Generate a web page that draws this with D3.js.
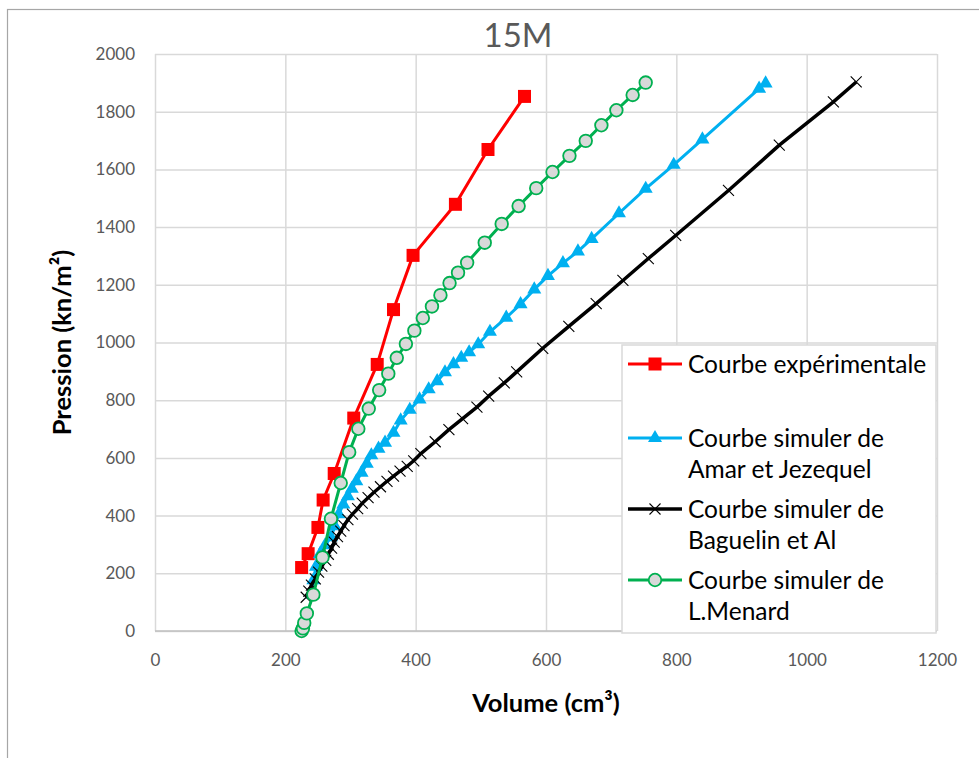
<!DOCTYPE html>
<html>
<head>
<meta charset="utf-8">
<script src="https://cdn.jsdelivr.net/npm/d3@7"></script>
<style>
  html, body { margin: 0; padding: 0; background: #ffffff; }
  svg { display: block; }
  text { font-family: Lato, "Open Sans", sans-serif; }
</style>
</head>
<body>
<svg id="chart" width="979" height="758"></svg>
<script>
// Pressiometer curves at 15 m: pressure (kn/m²) against volume (cm³)
const chartTitle = "15M";
const xTicks = [0, 200, 400, 600, 800, 1000, 1200];
const yTicks = [0, 200, 400, 600, 800, 1000, 1200, 1400, 1600, 1800, 2000];

// Courbe expérimentale
const volExp  = [225, 235, 250, 258, 275, 305, 341, 366, 396, 461, 511, 567];
const presExp = [220, 268, 359, 454, 546, 738, 924, 1114, 1302, 1479, 1669, 1853];

// Courbe simuler de Amar et Jezequel
const volAmar  = [241, 243, 247, 253, 261, 270, 276, 282, 289, 296, 302, 309, 317, 325, 332, 343, 353, 366, 377, 391,
                  406, 420, 433, 445, 458, 470, 482, 496, 514, 539, 561, 582, 603, 626, 649, 670, 712, 753, 796, 840, 927, 937];
const presAmar = [127, 176, 223, 266, 297, 325, 363, 405, 439, 467, 493, 519, 549, 580, 609, 632, 653, 687, 730, 767,
                  803, 838, 866, 897, 925, 947, 966, 994, 1037, 1086, 1133, 1184, 1231, 1275, 1316, 1359, 1448, 1533, 1616, 1704, 1880, 1898];

// Courbe simuler de Baguelin et Al
const volBag  = [232, 236, 240, 246, 251, 256, 262, 266, 271, 275, 280, 285, 290, 296, 303, 311, 318, 327, 336, 346,
                 356, 366, 376, 387, 397, 408, 430, 451, 472, 494, 512, 536, 555, 595, 635, 677, 718, 757, 799, 880, 958, 1041, 1076];
const presBag = [117, 138, 159, 181, 204, 225, 245, 266, 287, 308, 327, 346, 365, 386, 405, 424, 443, 462, 481, 500,
                 519, 537, 554, 571, 590, 615, 656, 698, 736, 776, 814, 860, 898, 980, 1056, 1135, 1215, 1291, 1371, 1527, 1684, 1834, 1903];

// Courbe simuler de L.Menard
const volMen  = [225, 227, 229, 233, 243, 257, 270, 285, 298, 312, 328, 344, 358, 371, 385, 398, 411, 425, 438, 452,
                 465, 479, 506, 532, 558, 585, 610, 636, 661, 685, 708, 733, 753];
const presMen = [0, 9, 28, 61, 126, 255, 389, 513, 620, 701, 771, 835, 892, 947, 995, 1041, 1085, 1125, 1164, 1206,
                 1242, 1277, 1346, 1411, 1473, 1535, 1591, 1647, 1699, 1753, 1805, 1858, 1901];

const seriesNames = [
  ["Courbe expérimentale"],
  ["Courbe simuler de", "Amar et Jezequel"],
  ["Courbe simuler de", "Baguelin et Al"],
  ["Courbe simuler de", "L.Menard"]
];

const svg = d3.select("#chart");
const plot = { left: 155, right: 937, top: 54, bottom: 631 };

const x = d3.scaleLinear().domain([0, 1200]).range([plot.left, plot.right]);
const y = d3.scaleLinear().domain([0, 2000]).range([plot.bottom, plot.top]);

// chart area border
svg.append("rect")
  .attr("x", 7.5).attr("y", 9.5).attr("width", 1100).attr("height", 900)
  .attr("fill", "#ffffff").attr("stroke", "#a6a6a6").attr("stroke-width", 1.2);

// gridlines
const grid = svg.append("g");
grid.append("g")
  .attr("transform", `translate(${plot.left},0)`)
  .call(d3.axisLeft(y).tickValues(yTicks).tickSize(-(plot.right - plot.left)).tickFormat(""))
  .call(g => g.select(".domain").remove())
  .call(g => g.selectAll("line").attr("stroke", "#d9d9d9").attr("stroke-width", 1.5));
grid.append("g")
  .attr("transform", `translate(0,${plot.top})`)
  .call(d3.axisBottom(x).tickValues(xTicks).tickSize(plot.bottom - plot.top).tickFormat(""))
  .call(g => g.select(".domain").remove())
  .call(g => g.selectAll("line").attr("stroke", "#d9d9d9").attr("stroke-width", 1.5));

// horizontal axis line
svg.append("line")
  .attr("x1", plot.left).attr("x2", plot.right)
  .attr("y1", y(0)).attr("y2", y(0))
  .attr("stroke", "#bfbfbf").attr("stroke-width", 1.5);

// tick labels
const yAxis = svg.append("g")
  .attr("transform", `translate(${plot.left},0)`)
  .call(d3.axisLeft(y).tickValues(yTicks).tickSize(0).tickPadding(20).tickFormat(d3.format("d")));
yAxis.select(".domain").remove();
yAxis.selectAll("text").attr("fill", "#595959").style("font-size", "17px").style("font-family", "Lato, sans-serif");

const xAxis = svg.append("g")
  .attr("transform", `translate(0,${plot.bottom})`)
  .call(d3.axisBottom(x).tickValues(xTicks).tickSize(0).tickPadding(23).tickFormat(d3.format("d")));
xAxis.select(".domain").remove();
xAxis.selectAll("text").attr("fill", "#595959").style("font-size", "17px").style("font-family", "Lato, sans-serif");

// title and axis titles
svg.append("text")
  .attr("x", 518).attr("y", 47)
  .attr("text-anchor", "middle")
  .attr("fill", "#595959")
  .style("font-size", "33px")
  .text(chartTitle);

svg.append("text")
  .attr("x", (plot.left + plot.right) / 2).attr("y", 712)
  .attr("text-anchor", "middle")
  .attr("fill", "#000000")
  .style("font-size", "25.5px").style("font-weight", "bold")
  .text("Volume (cm³)");

svg.append("text")
  .attr("transform", `translate(71,${(plot.top + plot.bottom) / 2}) rotate(-90)`)
  .attr("text-anchor", "middle")
  .attr("fill", "#000000")
  .style("font-size", "25.5px").style("font-weight", "bold")
  .text("Pression (kn/m²)");

// marker drawing helpers
const markers = {
  square: (g, cx, cy) => g.append("rect")
    .attr("x", cx - 6.5).attr("y", cy - 6.5).attr("width", 13).attr("height", 13)
    .attr("fill", "#ff0000"),
  triangle: (g, cx, cy) => g.append("path")
    .attr("transform", `translate(${cx},${cy})`)
    .attr("d", d3.symbol().type(d3.symbolTriangle).size(85)())
    .attr("fill", "#00b0f0"),
  cross: (g, cx, cy) => g.append("path")
    .attr("d", `M${cx - 5.5},${cy - 5.5}L${cx + 5.5},${cy + 5.5}M${cx - 5.5},${cy + 5.5}L${cx + 5.5},${cy - 5.5}`)
    .attr("stroke", "#000000").attr("stroke-width", 1.1).attr("fill", "none"),
  circle: (g, cx, cy) => g.append("circle")
    .attr("cx", cx).attr("cy", cy).attr("r", 6.3)
    .attr("fill", "#d9d9d9").attr("stroke", "#00b050").attr("stroke-width", 1.8)
};

const series = [
  { vol: volExp,  pres: presExp,  color: "#ff0000", width: 3,   marker: "square" },
  { vol: volAmar, pres: presAmar, color: "#00b0f0", width: 3,   marker: "triangle" },
  { vol: volBag,  pres: presBag,  color: "#000000", width: 3.5, marker: "cross" },
  { vol: volMen,  pres: presMen,  color: "#00b050", width: 3,   marker: "circle" }
];

const line = d3.line().x(d => x(d[0])).y(d => y(d[1]));

series.forEach(s => {
  const pts = s.vol.map((v, i) => [v, s.pres[i]]);
  const g = svg.append("g");
  g.append("path")
    .attr("d", line(pts))
    .attr("fill", "none")
    .attr("stroke", s.color)
    .attr("stroke-width", s.width)
    .attr("stroke-linejoin", "round");
  pts.forEach(p => markers[s.marker](g, x(p[0]), y(p[1])));
});

// legend
const legend = svg.append("g");
legend.append("rect")
  .attr("x", 622).attr("y", 345).attr("width", 314).attr("height", 288)
  .attr("fill", "#ffffff").attr("stroke", "#d9d9d9").attr("stroke-width", 1.5);

const legendRows = [364, 438, 509, 580];
const lineGap = 31;
series.forEach((s, i) => {
  const cy = legendRows[i];
  legend.append("line")
    .attr("x1", 628).attr("x2", 682).attr("y1", cy).attr("y2", cy)
    .attr("stroke", s.color).attr("stroke-width", s.width);
  markers[s.marker](legend, 655, cy);
  seriesNames[i].forEach((t, k) => {
    legend.append("text")
      .attr("x", 688).attr("y", cy + k * lineGap)
      .attr("dy", "0.35em")
      .attr("fill", "#000000")
      .style("font-size", "24.5px")
      .text(t);
  });
});
</script>
</body>
</html>
